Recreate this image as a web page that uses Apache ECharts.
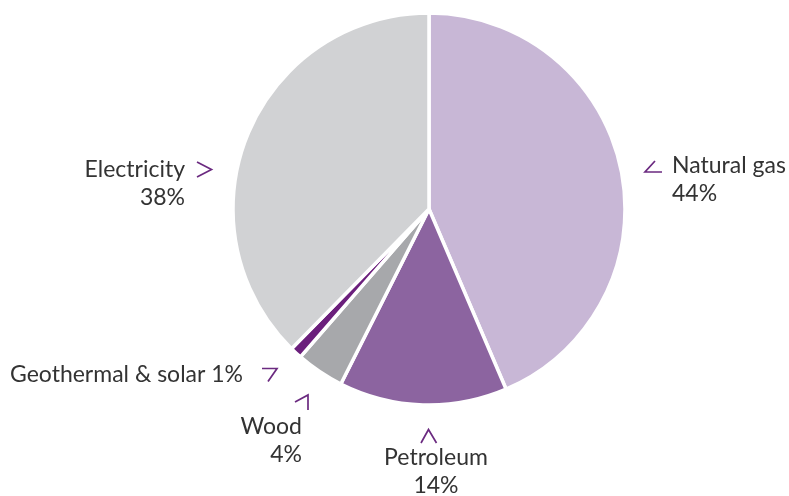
<!DOCTYPE html>
<html>
<head>
<meta charset="utf-8">
<script src="https://cdn.jsdelivr.net/npm/echarts@6/dist/echarts.min.js"></script>
<style>
  html, body { margin: 0; padding: 0; background: #ffffff; }
  #chart { width: 789px; height: 496px; }
</style>
</head>
<body>
<div id="chart"></div>
<script>
// Household energy use by source (percent)
const categories = ['Natural gas', 'Petroleum', 'Wood', 'Geothermal & solar', 'Electricity'];
const shares = [44, 14, 4, 1, 38];
const sliceColors = ['#c8b7d6', '#8c64a0', '#a7a8ab', '#6b1f7c', '#d1d2d4'];

// Where each label sits and how it is aligned
const labelSpots = [
  { x: 672, y: 180, align: 'left' },
  { x: 436, y: 472, align: 'center' },
  { x: 302, y: 441, align: 'right' },
  { x: 10,  y: 375, align: 'left' },
  { x: 185, y: 184, align: 'right' }
];

// Small purple chevrons pointing at the slices
const chevrons = [
  [[655, 161], [645, 172], [662, 172]],
  [[421, 443], [428.5, 429.5], [436.5, 443]],
  [[295, 402], [308, 395], [308, 410]],
  [[262, 368.5], [277, 368.5], [268, 381.5]],
  [[197, 162], [211.5, 169.5], [197, 177]]
];

const chart = echarts.init(document.getElementById('chart'), null, { renderer: 'canvas' });

const data = categories.map((name, i) => ({
  name,
  value: shares[i],
  itemStyle: { color: sliceColors[i] }
}));

chart.setOption({
  animation: false,
  series: [{
    type: 'pie',
    center: [429, 209],
    radius: 196,
    startAngle: 90,
    clockwise: true,
    silent: true,
    data,
    itemStyle: { borderColor: '#ffffff', borderWidth: 3.5 },
    label: {
      show: true,
      position: 'outside',
      alignTo: 'none',
      overflow: 'none',
      color: '#333333',
      fontFamily: 'Lato',
      fontSize: 23,
      lineHeight: 28,
      formatter: p => p.name === 'Geothermal & solar'
        ? p.name + ' ' + p.value + '%'
        : p.name + '\n' + p.value + '%'
    },
    labelLine: { show: false },
    labelLayout: p => {
      const s = labelSpots[p.dataIndex];
      return { x: s.x, y: s.y, align: s.align, verticalAlign: 'middle' };
    }
  }],
  graphic: chevrons.map(pts => ({
    type: 'polyline',
    silent: true,
    shape: { points: pts },
    style: { stroke: '#6b2a80', lineWidth: 1.7, fill: null }
  }))
});
</script>
</body>
</html>
